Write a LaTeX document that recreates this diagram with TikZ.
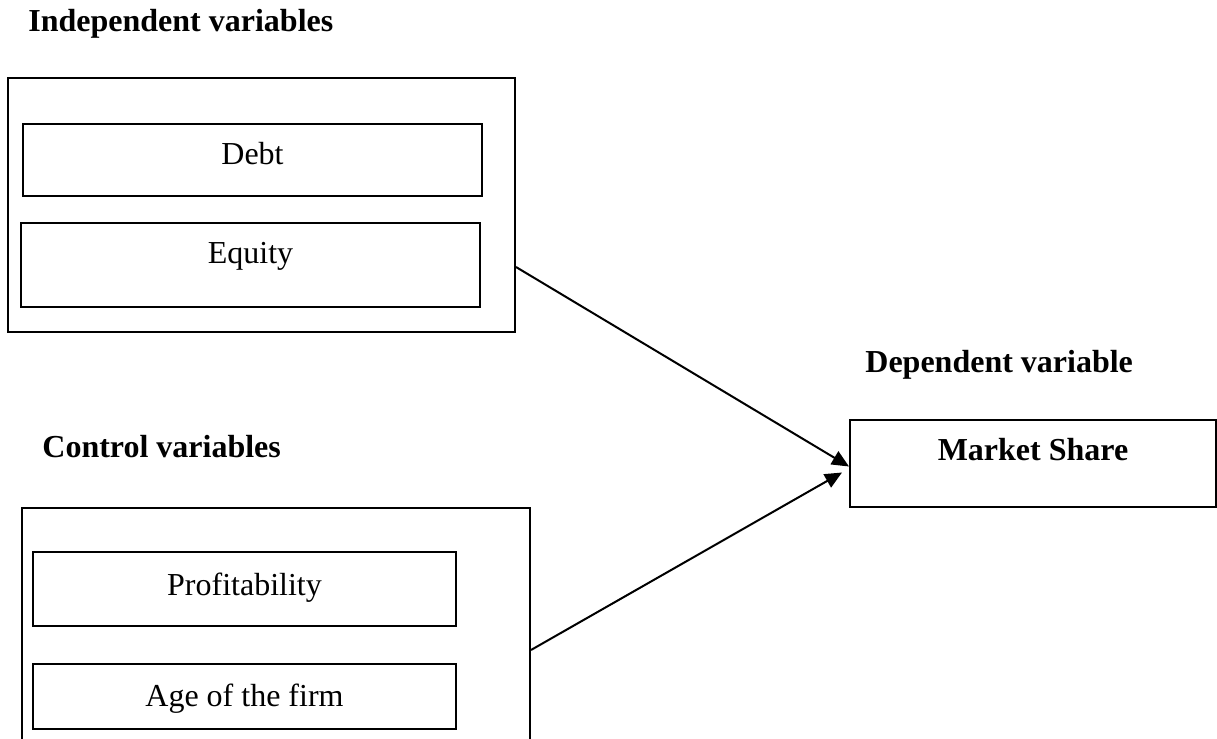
\documentclass[tikz,border=0pt]{standalone}
\usepackage{fontspec}
\setmainfont{Liberation Serif}
\usetikzlibrary{arrows.meta}
\tikzset{
  box/.style={draw,line width=1pt,inner sep=0pt},
  boxtext/.style={font=\fontsize{16}{19}\selectfont,anchor=base,inner sep=0pt},
  title/.style={font=\fontsize{16}{19}\selectfont\bfseries,anchor=base west,inner sep=0pt},
  link/.style={line width=1pt,-{Triangle[length=8.5pt,width=7.5pt]}}
}
\begin{document}
\begin{tikzpicture}[x=0.5pt,y=-0.5pt]
    \useasboundingbox (0,0) rectangle (1217,739);
    \node[title] (indtitle) at (28,32) {Independent variables};
    \node[box,minimum width=253.5pt,minimum height=127pt] (indep) at (261.5,205) {};
    \node[box,minimum width=229.5pt,minimum height=36pt] (debt) at (252.5,160) {};
    \node[boxtext] (debttext) at ([yshift=-2.35pt]debt.center) {Debt};
    \node[box,minimum width=229.5pt,minimum height=42pt] (equity) at (250.5,265) {};
    \node[boxtext] (equitytext) at ([yshift=0.65pt]equity.center) {Equity};

    \node[title] (ctltitle) at (42,457) {Control variables};
    \node[box,minimum width=254pt,minimum height=125pt] (control) at (276,633) {};
    \node[box,minimum width=211.5pt,minimum height=37pt] (profit) at (244.5,589) {};
    \node[boxtext] (profittext) at ([yshift=-3.35pt]profit.center) {Profitability};
    \node[box,minimum width=211.5pt,minimum height=32.5pt] (age) at (244.5,696.5) {};
    \node[boxtext] (agetext) at ([yshift=-4.75pt]age.center) {Age of the firm};

    \node[title] (deptitle) at (865,372) {Dependent variable};
    \node[box,minimum width=183pt,minimum height=43.5pt] (market) at (1033,463.5) {};
    \node[boxtext,font=\fontsize{16}{19}\selectfont\bfseries] (markettext) at ([yshift=1.75pt]market.center) {Market Share};

    \draw[link] ([yshift=-31pt]indep.east) -- ([yshift=-1.5pt]market.west);
    \draw[link] ([yshift=-8.5pt]control.east) -- ([xshift=-3.5pt,yshift=-4.5pt]market.west);
\end{tikzpicture}
\end{document}
